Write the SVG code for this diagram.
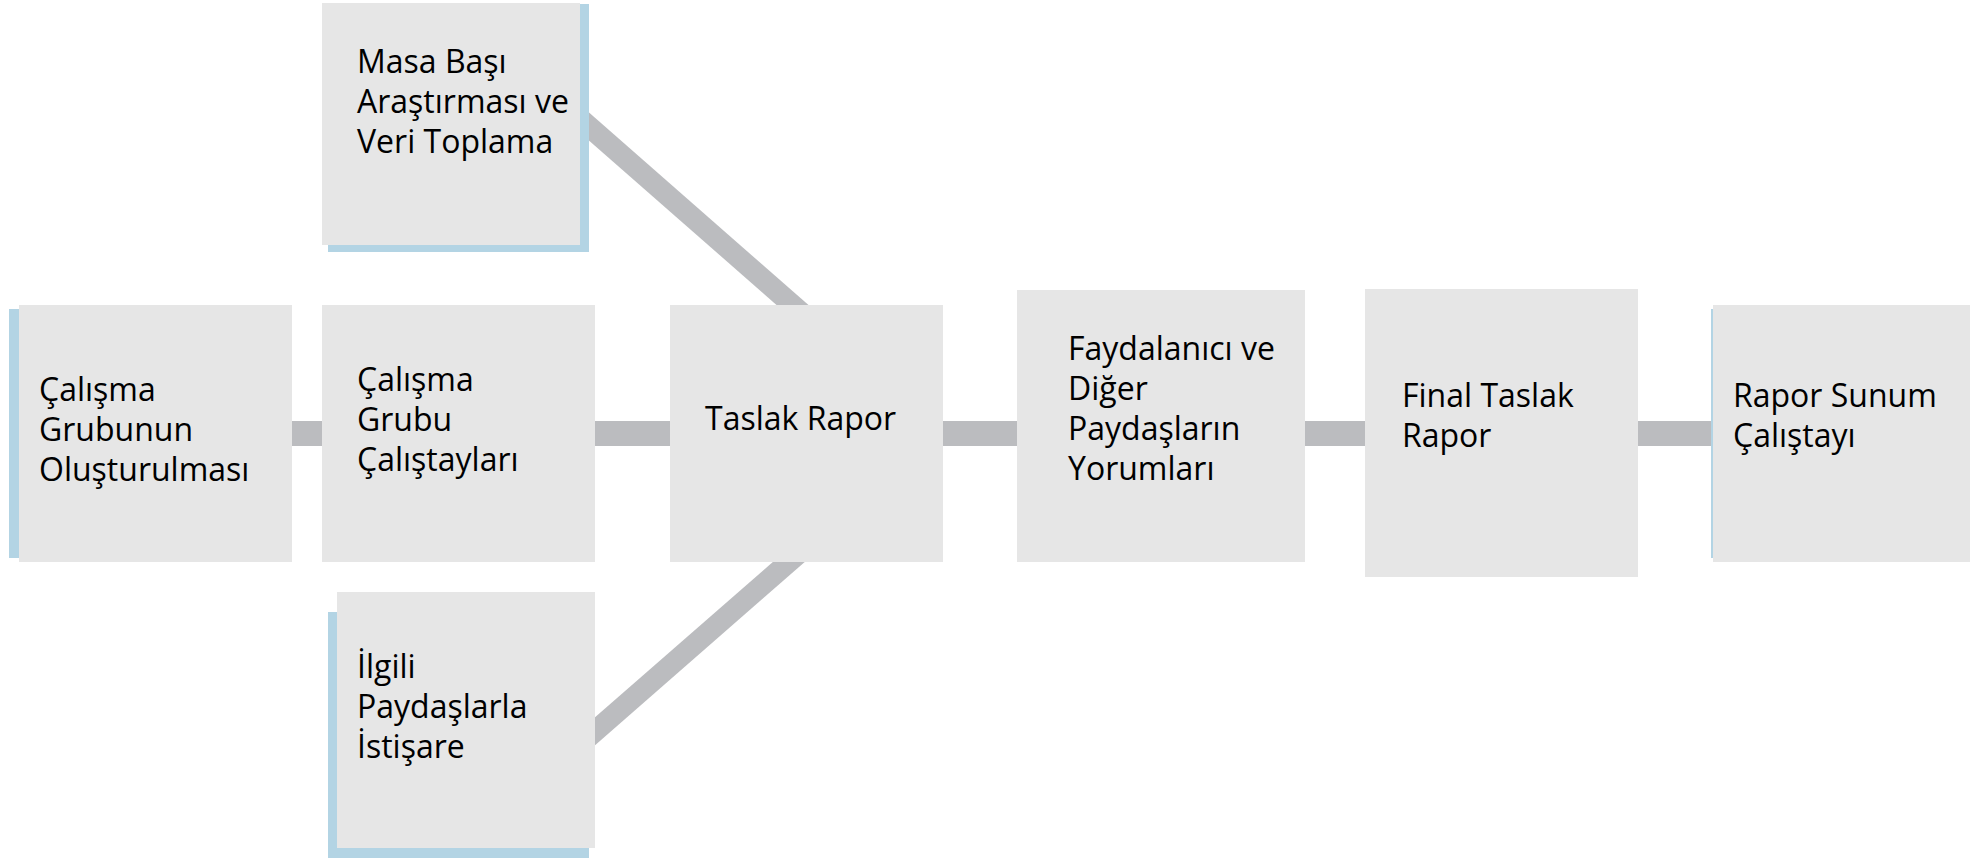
<svg xmlns="http://www.w3.org/2000/svg" width="1970" height="858" viewBox="0 0 1970 858">
<style>
.box{fill:#E6E6E6}
.sh{fill:#B3D4E4}
.con{stroke:#BBBCBF;fill:none}
.h{stroke-width:25}
.d{stroke-width:21}
text{font-family:"Open Sans","Noto Sans","Liberation Sans",sans-serif;font-size:32px;fill:#000}
</style>
<rect width="1970" height="858" fill="#FFFFFF"/>
<g id="connectors">
<line class="con h" x1="280" y1="433.5" x2="335" y2="433.5"/>
<line class="con h" x1="585" y1="433.5" x2="680" y2="433.5"/>
<line class="con h" x1="930" y1="433.5" x2="1030" y2="433.5"/>
<line class="con h" x1="1295" y1="433.5" x2="1375" y2="433.5"/>
<line class="con h" x1="1628" y1="433.5" x2="1725" y2="433.5"/>
<line class="con d" x1="569" y1="109" x2="813" y2="323"/>
<line class="con d" x1="807" y1="546" x2="577" y2="747"/>
</g>
<g id="n1">
<rect class="sh" x="9" y="309" width="12" height="249"/>
<rect class="box" x="19" y="305" width="273" height="257"/>
<text x="39" y="401">Çalışma</text>
<text x="39" y="441">Grubunun</text>
<text x="39" y="481">Oluşturulması</text>
</g>
<g id="n2">
<rect class="box" x="322" y="305" width="273" height="257"/>
<text x="357" y="391">Çalışma</text>
<text x="357" y="431">Grubu</text>
<text x="357" y="471">Çalıştayları</text>
</g>
<g id="n3">
<rect class="sh" x="328" y="4" width="261" height="248"/>
<rect class="box" x="322" y="3" width="258" height="242"/>
<text x="357" y="73">Masa Başı</text>
<text x="357" y="113">Araştırması ve</text>
<text x="357" y="153">Veri Toplama</text>
</g>
<g id="n4">
<rect class="sh" x="328" y="612" width="261" height="246"/>
<rect class="box" x="337" y="592" width="258" height="256"/>
<text x="357" y="678">İlgili</text>
<text x="357" y="718">Paydaşlarla</text>
<text x="357" y="758">İstişare</text>
</g>
<g id="n5">
<rect class="box" x="670" y="305" width="273" height="257"/>
<text x="705" y="430">Taslak Rapor</text>
</g>
<g id="n6">
<rect class="box" x="1017" y="290" width="288" height="272"/>
<text x="1068" y="360">Faydalanıcı ve</text>
<text x="1068" y="400">Diğer</text>
<text x="1068" y="440">Paydaşların</text>
<text x="1068" y="480">Yorumları</text>
</g>
<g id="n7">
<rect class="box" x="1365" y="289" width="273" height="288"/>
<text x="1402" y="407">Final Taslak</text>
<text x="1402" y="447">Rapor</text>
</g>
<g id="n8">
<rect class="sh" x="1711" y="309" width="4" height="249"/>
<rect class="box" x="1713" y="305" width="257" height="257"/>
<text x="1733" y="407">Rapor Sunum</text>
<text x="1733" y="447">Çalıştayı</text>
</g>
</svg>
